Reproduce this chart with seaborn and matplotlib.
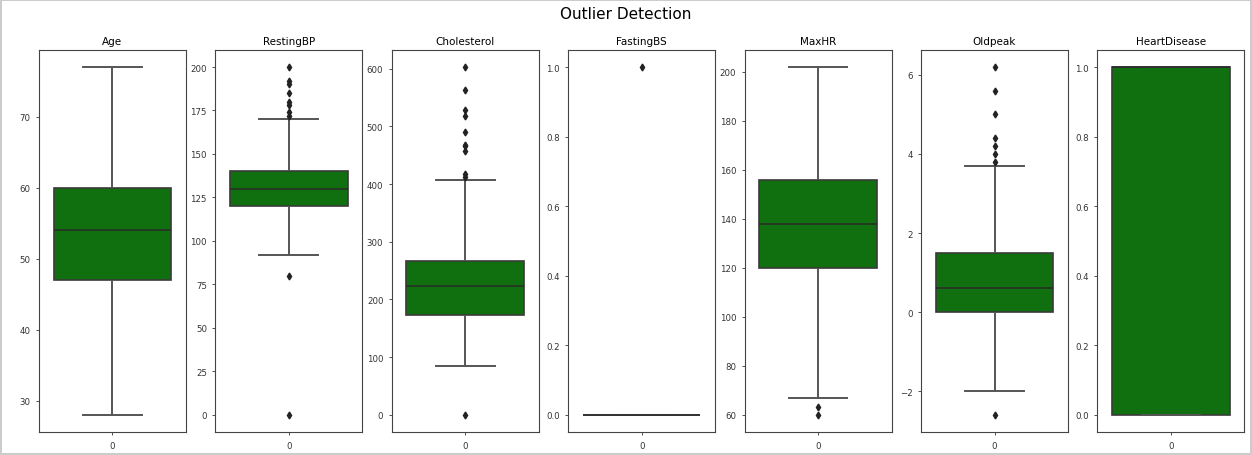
import numpy as np
import pandas as pd
import matplotlib
matplotlib.use("Agg")
import matplotlib.pyplot as plt
import seaborn as sns

# Columns shown, in order
columns = ["Age", "RestingBP", "Cholesterol", "FastingBS", "MaxHR", "Oldpeak", "HeartDisease"]

# Five-number summaries: [lower whisker, Q1, median, Q3, upper whisker]
age_stats = [28, 47, 54, 60, 77]
restingbp_stats = [92, 120, 130, 140, 170]
cholesterol_stats = [85, 173, 223, 267, 407]
fastingbs_stats = [0, 0, 0, 0, 0]
maxhr_stats = [67, 120, 138, 156, 202]
oldpeak_stats = [-2.0, 0.0, 0.6, 1.5, 3.7]
heartdisease_stats = [0, 0, 1, 1, 1]

# Outliers (low side, high side)
age_out_lo, age_out_hi = [], []
restingbp_out_lo, restingbp_out_hi = [0, 80], [172, 174, 178, 180, 185, 190, 192, 200]
cholesterol_out_lo, cholesterol_out_hi = [0], [412, 417, 458, 466, 468, 491, 518, 529, 564, 603]
fastingbs_out_lo, fastingbs_out_hi = [], [1]
maxhr_out_lo, maxhr_out_hi = [60, 63], []
oldpeak_out_lo, oldpeak_out_hi = [-2.6], [3.8, 4.0, 4.2, 4.4, 5.0, 5.6, 6.2]
heartdisease_out_lo, heartdisease_out_hi = [], []

summaries = {
    "Age": (age_stats, age_out_lo, age_out_hi),
    "RestingBP": (restingbp_stats, restingbp_out_lo, restingbp_out_hi),
    "Cholesterol": (cholesterol_stats, cholesterol_out_lo, cholesterol_out_hi),
    "FastingBS": (fastingbs_stats, fastingbs_out_lo, fastingbs_out_hi),
    "MaxHR": (maxhr_stats, maxhr_out_lo, maxhr_out_hi),
    "Oldpeak": (oldpeak_stats, oldpeak_out_lo, oldpeak_out_hi),
    "HeartDisease": (heartdisease_stats, heartdisease_out_lo, heartdisease_out_hi),
}


def sample_from_summary(stats, lo, hi, k=40):
    """Build a sample whose boxplot statistics reproduce the read summary."""
    wl, q1, med, q3, wh = stats
    vals = list(lo) + [wl] + [q1] * k + [med] * k + [q3] * k + [wh] + list(hi)
    return vals


plt.rcParams["font.family"] = ["DejaVu Sans"]
fig, axes = plt.subplots(1, len(columns), figsize=(12.52, 4.56), dpi=100)
fig.subplots_adjust(left=0.031, right=0.994, top=0.889, bottom=0.050, wspace=0.2)

for ax, col in zip(axes, columns):
    stats, lo, hi = summaries[col]
    vals = sample_from_summary(stats, lo, hi)
    df = pd.DataFrame({"x": ["0"] * len(vals), "y": vals})
    sns.boxplot(data=df, x="x", y="y", ax=ax, color="green", width=0.8,
                linewidth=1.2, linecolor="#3a3a3a",
                whiskerprops=dict(color="#555555", linewidth=1.4),
                capprops=dict(color="#555555", linewidth=1.4),
                medianprops=dict(color="#2a2a2a", linewidth=1.1),
                flierprops=dict(marker="d", markerfacecolor="#222222",
                                markeredgecolor="#222222", markersize=3.5))
    ax.set_title(col, fontsize=7.5, pad=4)
    ax.set_xlabel("")
    ax.set_ylabel("")
    ax.tick_params(labelsize=6.2, length=2.5, width=0.6, colors="#333333")
    for s in ax.spines.values():
        s.set_linewidth(0.8)
        s.set_color("#444444")

fig.suptitle("Outlier Detection", fontsize=11, y=0.985)
fig.patch.set_edgecolor("#cccccc")
fig.patch.set_linewidth(1.5)
fig.savefig("out.png", dpi=100)
